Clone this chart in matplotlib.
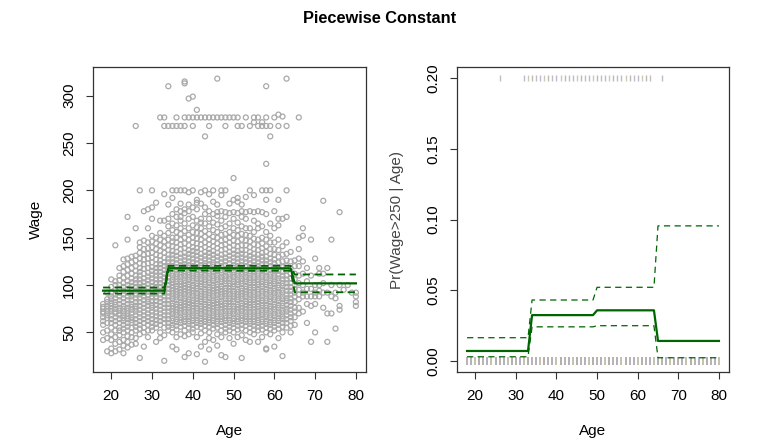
import numpy as np
import matplotlib
matplotlib.use("Agg")
import matplotlib.pyplot as plt

plt.rcParams["font.family"] = ["Liberation Sans", "DejaVu Sans"]

# wage values, one string per (integer) age
col_ages = [18, 19, 20, 21, 22, 23, 24, 25, 26, 27, 28, 29, 30, 31, 32, 33,
            34, 35, 36, 37, 38, 39, 40, 41, 42, 43, 44, 45, 46, 47, 48, 49,
            50, 51, 52, 53, 54, 55, 56, 57, 58, 59, 60, 61, 62, 63, 64, 65,
            66, 67, 68, 69, 70, 71, 72, 73, 74, 75, 76, 77, 78, 79, 80]
col_wages = [
    "42 50 58 62 66 70 72 75 77 80",
    "30 44 52 60 65 68 72 75 78 82 85 92",
    "28 33 42 48 55 60 64 68 72 75 78 81 85 88 92 98 106",
    "30 38 45 52 58 62 66 70 72 75 79 82 86 90 95 100 104 142",
    "32 40 47 52 55 60 64 68 70 73 76 80 84 88 92 96 100 105 110 118",
    "28 36 42 50 54 58 62 65 68 72 75 78 82 86 90 94 98 102 108 114 120 127",
    "34 40 46 52 56 60 64 67 70 73 76 80 84 88 92 96 100 104 110 116 122 128 148 172",
    "37 45 50 55 60 63 66 70 74 77 80 84 88 91 95 99 103 107 112 118 124 130",
    "38 44 52 56 60 64 68 72 75 78 82 86 90 94 98 102 106 110 115 120 126 131 160 268",
    "23 48 54 58 62 66 70 74 78 82 86 90 94 98 102 106 110 114 118 123 128 134 140 145 200",
    "35 50 55 60 64 68 72 76 80 84 88 92 95 99 103 107 112 117 122 127 132 138 147 178",
    "45 52 58 62 66 70 74 78 82 85 89 93 97 101 105 109 113 118 123 128 133 139 145 160 180",
    "52 56 60 64 68 72 76 79 83 87 91 95 99 103 107 111 115 119 124 129 134 140 146 152 170 182 200",
    "40 55 59 63 67 71 75 79 83 87 91 94 98 102 106 110 114 118 122 127 132 138 144 150 187",
    "44 50 58 62 66 70 74 78 82 86 90 94 98 102 106 110 114 118 122 126 131 136 142 148 155 168 277",
    "20 47 55 60 64 68 72 76 80 84 88 92 96 100 104 108 112 116 120 124 129 134 140 146 152 168 196 268 277",
    "52 56 60 64 68 72 76 80 84 88 92 96 100 104 108 112 116 120 124 128 132 137 142 148 155 162 170 185 268 310",
    "35 50 55 58 62 65 69 72 75 78 81 85 88 91 94 97 100 103 106 110 113 117 120 124 128 132 136 141 146 150 158 165 175 192 200 268",
    "32 45 53 57 61 64 68 71 74 77 80 84 87 90 93 96 99 103 106 109 112 116 119 123 127 131 135 140 145 150 156 163 172 180 200 268 277",
    "48 56 60 63 66 70 73 76 79 82 86 89 92 95 98 101 104 108 111 114 118 121 125 129 133 138 143 148 154 160 168 172 178 186 200 268",
    "24 46 52 57 61 64 67 71 74 77 80 83 86 90 93 96 99 102 105 109 112 115 119 122 126 130 134 139 144 150 157 165 176 180 200 268 277 313 315",
    "28 48 55 59 62 66 69 72 76 79 82 85 89 92 95 98 101 105 108 111 114 118 121 125 129 133 137 142 148 153 160 170 178 185 198 277 297",
    "50 54 58 62 65 68 72 75 78 81 84 88 91 94 97 100 104 107 110 113 117 120 124 128 132 136 140 145 150 156 163 172 182 200 268 277 299",
    "27 45 56 60 63 67 70 73 76 80 83 86 89 92 96 99 102 106 109 112 116 119 123 127 131 135 139 144 149 155 161 168 180 187 190 285 277",
    "35 49 55 59 62 65 69 72 75 78 82 85 88 91 94 98 101 104 107 111 114 118 121 125 129 133 138 143 148 154 160 166 170 186 198 277",
    "19 40 52 57 61 64 67 71 74 77 80 84 87 90 93 96 100 103 106 110 113 116 120 123 127 131 135 140 145 151 157 165 175 182 200 257 277",
    "32 44 50 56 60 63 66 70 73 76 79 82 86 89 92 95 98 102 105 108 112 115 118 122 126 130 134 138 143 148 154 162 170 178 196 268 277",
    "42 54 58 62 65 68 72 75 78 81 84 88 91 94 97 100 104 107 110 114 117 121 124 128 132 136 141 146 151 158 166 175 188 200 277",
    "36 48 55 59 62 66 69 72 76 79 82 85 89 92 95 98 101 105 108 111 115 118 122 126 130 134 139 144 150 156 164 173 177 185 277 318",
    "26 45 52 57 61 64 67 71 74 77 80 83 87 90 93 96 99 103 106 109 113 116 120 124 128 132 137 142 147 153 160 168 178 195 200 277",
    "24 50 54 58 62 65 68 72 75 78 81 85 88 91 94 97 101 104 107 110 114 117 121 125 129 133 138 143 148 154 162 172 177 200 268 277",
    "44 52 56 60 63 67 70 73 77 80 83 86 90 93 96 99 102 106 109 112 116 119 123 127 131 135 140 145 150 156 165 176 186 277",
    "38 50 55 59 62 65 69 72 75 78 82 85 88 91 94 98 101 104 108 111 114 118 121 125 129 133 137 142 147 153 160 170 177 190 213 277",
    "45 53 57 61 64 67 71 74 77 80 84 87 90 93 96 100 103 106 110 113 117 120 124 128 132 136 141 146 152 158 166 176 188 192 268 277",
    "23 47 54 58 62 65 68 72 75 78 81 85 88 91 94 97 101 104 107 111 114 117 121 125 129 133 137 142 148 154 162 172 178 185 268",
    "42 52 57 61 64 67 71 74 77 80 83 87 90 93 96 99 103 106 109 113 116 120 124 128 132 137 142 147 153 160 170 177 193 277",
    "40 50 55 59 62 66 69 72 76 79 82 85 89 92 95 98 102 105 108 112 115 119 123 127 131 135 140 146 152 160 178 200 268",
    "48 53 57 61 64 67 71 74 77 80 84 87 90 93 97 100 103 107 110 114 117 121 125 129 133 138 143 149 156 168 177 195 272 277",
    "40 52 56 60 63 67 70 73 77 80 83 86 90 93 96 100 103 106 110 113 117 120 124 128 132 137 142 148 160 165 178 268 277",
    "45 53 57 61 64 68 71 74 78 81 84 88 91 94 98 101 104 108 111 115 118 122 126 130 134 139 144 150 162 177 200 268 272",
    "32 33 50 55 59 62 66 69 73 76 79 83 86 90 93 96 100 103 107 110 114 118 122 126 130 135 141 148 156 175 190 200 228 268 277 310",
    "48 54 58 61 65 68 72 75 78 82 85 88 92 95 99 102 105 109 112 116 120 124 128 133 138 145 152 165 200 257 268",
    "35 52 56 60 63 67 70 74 77 80 84 87 91 94 97 101 104 108 111 115 119 123 127 132 138 145 160 178 277",
    "44 54 58 62 65 69 72 76 79 83 86 90 93 97 100 104 107 111 115 119 124 130 137 148 163 170 190 268 280",
    "25 50 56 60 64 67 71 74 78 81 85 88 92 95 99 102 106 110 114 119 125 132 141 170 278",
    "55 60 64 68 72 75 79 83 86 90 94 98 102 106 110 115 120 126 133 145 172 200 268 318",
    "50 57 62 66 70 74 78 82 86 90 94 98 102 107 112 118 125 135",
    "58 66 72 76 82 88 92 96 100 106 112 120 126",
    "70 76 85 90 95 102 110 120 128 138 150 277",
    "72 88 92 100 112 125 152 160",
    "60 80 88 96 104 118",
    "40 78 88 96 110 148",
    "50 80 88 92 100 128",
    "88 94 100 112 118",
    "76 92 102 112 189",
    "40 70 92 118",
    "70 88 100 148",
    "54 86 92",
    "74 78 100 177",
    "95",
    "100",
    "92",
    "78 82 88 92",
]

# step fit, cut(age, 4)
bin_breaks = [33.5, 49.0, 64.5]
wage_fit = [94.1, 117.8, 117.7, 101.8]
wage_upper = [97.4, 120.3, 120.3, 111.2]
wage_lower = [91.0, 115.3, 115.1, 92.4]
prob_fit = [0.0069, 0.0323, 0.0357, 0.0140]
prob_upper = [0.0163, 0.0430, 0.0520, 0.0955]
prob_lower = [0.0028, 0.0240, 0.0248, 0.0021]

x_ticks = [20, 30, 40, 50, 60, 70, 80]
wage_ticks = [50, 100, 150, 200, 250, 300]
prob_ticks = [0.00, 0.05, 0.10, 0.15, 0.20]

age = []
wage = []
for a, s in zip(col_ages, col_wages):
    for w in s.split():
        age.append(a)
        wage.append(float(w))
age = np.array(age)
wage = np.array(wage)

age_grid = np.arange(18, 81)
bin_idx = np.digitize(age_grid, bin_breaks, right=True)


def step(vals):
    return np.array(vals)[bin_idx]


GREEN = "#006400"
GREY = "#a9a9a9"

fig = plt.figure(figsize=(7.59, 4.48), dpi=100)
ax1 = fig.add_axes([0.1225, 0.1696, 0.3597, 0.6808])
ax2 = fig.add_axes([0.6021, 0.1696, 0.3584, 0.6808])

fig.text(0.5, 0.958, "Piecewise Constant", ha="center", va="center",
         fontsize=11.8, fontweight="bold")

# left: wage vs age
ax1.scatter(age, wage, s=13, facecolors="none", edgecolors=GREY, linewidths=0.9)
ax1.plot(age_grid, step(wage_fit), color=GREEN, lw=1.6)
for band in (wage_upper, wage_lower):
    ax1.plot(age_grid, step(band), color=GREEN, lw=1.3, dashes=(4, 2.5))
ax1.set_xlim(15.52, 82.48)
ax1.set_ylim(8.16, 330.27)
ax1.set_xticks(x_ticks)
ax1.set_yticks(wage_ticks)
ax1.set_xlabel("Age", fontsize=11)
ax1.set_ylabel("Wage", fontsize=11)
ax1.xaxis.set_label_coords(0.5, -0.17)
ax1.yaxis.set_label_coords(-0.185, 0.5)

# right: probability of wage > 250
high = wage > 250
top_ages = np.unique(age[high])
bot_ages = np.unique(age[~high])
rug_cols = ["#b8abab", "#abaabf", "#c2bca2", "#a9a9a9"]
for i, a in enumerate(bot_ages):
    ax2.plot(a, 0.0, marker="|", ms=5.5, mew=1.3, color=rug_cols[i % 4])
for i, a in enumerate(top_ages):
    ax2.plot(a, 0.2, marker="|", ms=5.0, mew=1.0, color=rug_cols[i % 4], alpha=0.8)
ax2.plot(age_grid, step(prob_fit), color=GREEN, lw=1.6)
for band in (prob_upper, prob_lower):
    ax2.plot(age_grid, step(band), color=GREEN, lw=0.9, dashes=(5, 3.5))
ax2.set_xlim(15.52, 82.48)
ax2.set_ylim(-0.008, 0.208)
ax2.set_xticks(x_ticks)
ax2.set_yticks(prob_ticks)
ax2.set_yticklabels(["0.00", "0.05", "0.10", "0.15", "0.20"])
ax2.set_xlabel("Age", fontsize=11)
ax2.set_ylabel("Pr(Wage>250 | Age)", fontsize=11, color="#444444")
ax2.xaxis.set_label_coords(0.5, -0.17)
ax2.yaxis.set_label_coords(-0.195, 0.5)

for ax in (ax1, ax2):
    for sp in ax.spines.values():
        sp.set_linewidth(0.9)
        sp.set_color("#333333")
    ax.tick_params(axis="both", length=5, width=0.8, color="#333333",
                   labelsize=11, pad=7)
    ax.tick_params(axis="y", labelrotation=90)
    for lab in ax.get_yticklabels():
        lab.set_va("center")

fig.savefig("out.png", dpi=100)
